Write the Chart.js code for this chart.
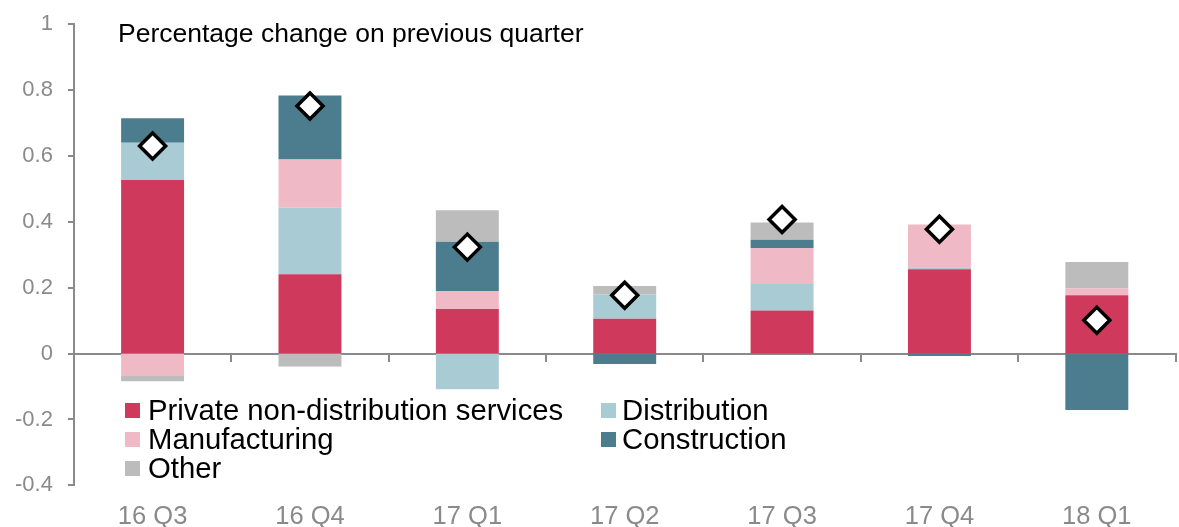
<!DOCTYPE html>
<html>
<head>
<meta charset="utf-8">
<script src="https://cdn.jsdelivr.net/npm/chart.js@4/dist/chart.umd.min.js"></script>
<style>
  html, body { margin: 0; padding: 0; background: #fff; overflow: hidden; width: 1179px; height: 527px; }
  #wrap { position: absolute; left: 0; top: 0; width: 1192px; height: 562px; }
  .txt { position: absolute; font-family: "Liberation Sans", Arial, sans-serif; color: #000; white-space: nowrap; }
  #title { left: 118px; top: 20px; font-size: 26.5px; line-height: 26px; }
  .sw { position: absolute; width: 15px; height: 15px; }
  .lg { font-size: 29.3px; line-height: 29px; }
</style>
</head>
<body>
<div id="wrap">
  <canvas id="chart" width="1192" height="562"></canvas>
</div>
<div id="title" class="txt">Percentage change on previous quarter</div>
<div id="legend"></div>
<script>
const quarters = ["16 Q3", "16 Q4", "17 Q1", "17 Q2", "17 Q3", "17 Q4", "18 Q1"];

const privateServices = [0.527, 0.241, 0.135, 0.106, 0.131, 0.256, 0.177];
const distribution    = [0.113, 0.202, -0.108, 0.073, 0.080, 0.006, 0];
const manufacturing   = [-0.066, 0.146, 0.055, 0, 0.109, 0.130, 0.021];
const construction    = [0.074, 0.194, 0.149, -0.032, 0.025, -0.007, -0.171];
const other           = [-0.018, -0.039, 0.096, 0.026, 0.053, 0, 0.080];
const totalGrowth     = [0.630, 0.751, 0.323, 0.177, 0.407, 0.377, 0.101];

const seriesNames  = ["Private non-distribution services", "Distribution", "Manufacturing", "Construction", "Other"];
const seriesValues = [privateServices, distribution, manufacturing, construction, other];
const seriesColors = ["#CF3A5C", "#A9CBD4", "#EFBAC6", "#4B7D8E", "#BCBCBC"];

const GREY = "#8a8a8a";
const FONT = "'Liberation Sans', Arial, sans-serif";

// legend, two columns, row-major like the original
const legend = document.getElementById("legend");
seriesNames.forEach((name, i) => {
  const row = Math.floor(i / 2), col = i % 2;
  const baseline = 419 + row * 29;
  const sw = document.createElement("div");
  sw.className = "sw";
  sw.style.left = (col ? 601 : 125) + "px";
  sw.style.top = (baseline - 16) + "px";
  sw.style.background = seriesColors[i];
  legend.appendChild(sw);
  const t = document.createElement("div");
  t.className = "txt lg";
  t.style.left = (col ? 622 : 148) + "px";
  t.style.top = (baseline - 24.5) + "px";
  t.textContent = name;
  legend.appendChild(t);
});

const datasets = seriesNames.map((name, i) => ({
  type: "bar",
  label: name,
  data: seriesValues[i],
  backgroundColor: seriesColors[i],
  borderWidth: 0,
  barPercentage: 0.8,
  categoryPercentage: 0.5,
  stack: "parts",
  order: 1,
}));

datasets.push({
  type: "line",
  label: "Total",
  data: totalGrowth,
  showLine: false,
  pointStyle: "rectRot",
  pointRadius: 13,
  pointHoverRadius: 13,
  pointBackgroundColor: "#fff",
  pointBorderColor: "#000",
  pointBorderWidth: 3.5,
  stack: "total",
  order: 0,
});

new Chart(document.getElementById("chart"), {
  type: "bar",
  data: { labels: quarters, datasets },
  options: {
    responsive: false,
    animation: false,
    layout: { padding: { left: 0, right: 2, top: 24, bottom: 14 } },
    plugins: { legend: { display: false }, tooltip: { enabled: false } },
    scales: {
      x: {
        stacked: true,
        offset: true,
        border: { display: false },
        grid: { display: false, drawTicks: false },
        ticks: { color: GREY, padding: 16, font: { family: FONT, size: 25.5 } },
      },
      x2: {
        axis: "x",
        position: { y: 0 },
        offset: true,
        border: { display: true, color: GREY, width: 2 },
        grid: { offset: true, drawOnChartArea: false, drawTicks: true, tickLength: 7, color: GREY, lineWidth: 2 },
        ticks: { display: false },
      },
      y: {
        stacked: true,
        min: -0.4,
        max: 1,
        border: { display: true, color: GREY, width: 2 },
        grid: { drawOnChartArea: false, drawTicks: true, tickLength: 6, tickColor: GREY, color: GREY, lineWidth: 2 },
        ticks: {
          stepSize: 0.2,
          padding: 15,
          color: GREY,
          font: { family: FONT, size: 22, lineHeight: 0.8 },
          callback: (v) => String(Number(Number(v).toFixed(1))),
        },
      },
    },
  },
});
</script>
</body>
</html>
